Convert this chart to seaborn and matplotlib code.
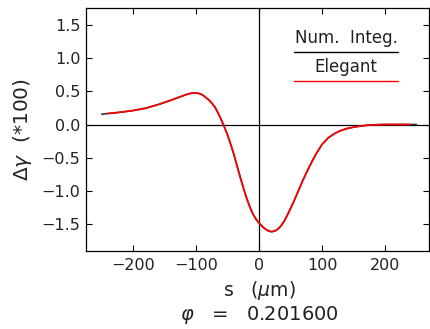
import matplotlib
matplotlib.use("Agg")
import matplotlib.pyplot as plt
import seaborn as sns
import pandas as pd

# Data
s_num = [-250, -240, -220, -200, -180, -160, -140, -130, -120, -115, -110, -105, -100, -95,
         -90, -85, -80, -75, -70, -65, -60, -55, -50, -45, -40, -35, -30, -25, -20, -15,
         -10, -5, 0, 5, 10, 15, 20, 25, 30, 35, 40, 45, 50, 55, 60, 70, 80, 90,
         100, 110, 120, 130, 140, 150, 160, 170, 180, 190, 200, 210, 220, 230, 240, 250]
dg_num = [0.155, 0.165, 0.185, 0.21, 0.245, 0.30, 0.365, 0.40, 0.435, 0.452, 0.465, 0.473, 0.474, 0.465,
          0.445, 0.41, 0.37, 0.32, 0.26, 0.17, 0.07, -0.04, -0.16, -0.30, -0.45, -0.62, -0.79, -0.95,
          -1.10, -1.23, -1.34, -1.42, -1.48, -1.53, -1.57, -1.60, -1.61, -1.60, -1.57, -1.52, -1.45,
          -1.36, -1.26, -1.16, -1.05, -0.83, -0.63, -0.45, -0.30, -0.20, -0.135, -0.09, -0.06, -0.04,
          -0.025, -0.013, -0.006, -0.002, 0.0, 0.0, 0.0, 0.0, 0.0, 0.0]
s_eleg = s_num[1:-1]
dg_eleg = dg_num[1:-1]

x_ticks = [-200, -100, 0, 100, 200]
y_ticks = [-1.5, -1.0, -0.5, 0.0, 0.5, 1.0, 1.5]
y_ticklabels = ["\u22121.5", "\u22121.0", "\u22120.5", "0.0", "0.5", "1.0", "1.5"]
legend_labels = ["Num.  Integ.", "Elegant"]
phi_text = "$\\varphi$   =   0.201600"

sns.set_style("ticks")
plt.rcParams["font.family"] = ["DejaVu Sans"]
plt.rcParams["mathtext.fontset"] = "dejavusans"

fig = plt.figure(figsize=(4.3, 3.29), dpi=100)
ax = fig.add_axes([86 / 430, 1 - 251 / 329, 343 / 430, 243 / 329])

ax.axhline(0, color="black", lw=0.9, zorder=1)
ax.axvline(0, color="black", lw=0.9, zorder=1)

df_num = pd.DataFrame({"s": s_num, "dg": dg_num})
df_eleg = pd.DataFrame({"s": s_eleg, "dg": dg_eleg})
sns.lineplot(data=df_num, x="s", y="dg", ax=ax, color="#333333", lw=1.2, sort=False, zorder=2)
sns.lineplot(data=df_eleg, x="s", y="dg", ax=ax, color="#ff0000", lw=1.2, sort=False, zorder=3)

ax.set_xlim(-275, 270)
ax.set_ylim(-1.90, 1.75)
ax.set_xticks(x_ticks)
ax.set_yticks(y_ticks)
ax.set_yticklabels(y_ticklabels)
ax.tick_params(direction="in", length=4, width=0.8, top=True, right=True,
               labelsize=11.5, colors="black", labelcolor="#222222")
ax.tick_params(axis="x", pad=5)
ax.tick_params(axis="y", pad=4)
ax.tick_params(labeltop=False, labelright=False)
for sp in ax.spines.values():
    sp.set_visible(True)
    sp.set_color("black")
    sp.set_linewidth(0.9)

ax.set_xlabel("")
ax.set_ylabel("\u0394$\\gamma$  (*100)", fontsize=14.5, color="#222222")
ax.yaxis.set_label_coords(-0.152, 0.5)

# legend drawn manually
ax.text(0.758, 0.877, legend_labels[0], transform=ax.transAxes, ha="center", va="center",
        fontsize=12, color="#222222")
ax.plot([0.606, 0.910], [0.819, 0.819], transform=ax.transAxes, color="black", lw=1.0)
ax.text(0.758, 0.757, legend_labels[1], transform=ax.transAxes, ha="center", va="center",
        fontsize=12, color="#222222")
ax.plot([0.606, 0.910], [0.700, 0.700], transform=ax.transAxes, color="#ff0000", lw=1.0)

fig.text(259 / 430, 1 - 290 / 329, "s   ($\\mu$m)", ha="center", va="center",
         fontsize=13.5, color="#222222")
fig.text(259 / 430, 1 - 315 / 329, phi_text, ha="center", va="center",
         fontsize=14, color="#222222")

fig.savefig("out.png", dpi=100)
